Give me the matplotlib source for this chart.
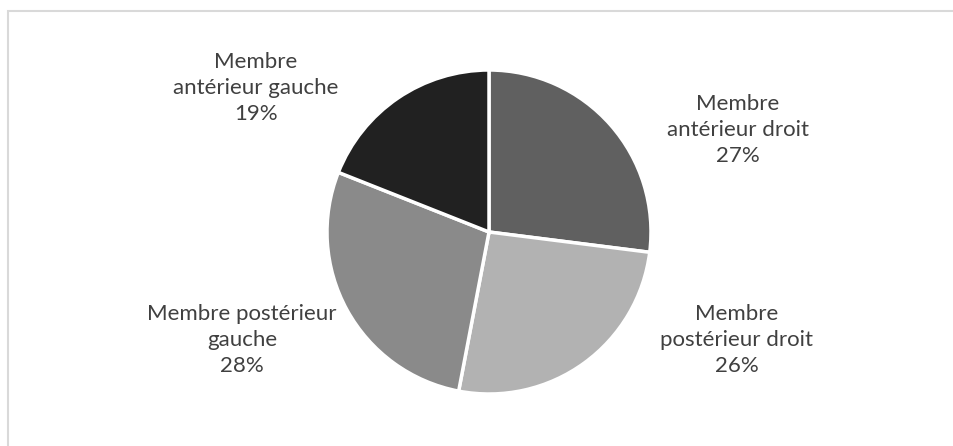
import matplotlib
matplotlib.use('Agg')
import matplotlib.pyplot as plt
from matplotlib.patches import Rectangle

# slice data, clockwise from 12 o'clock
parts = ['Membre\nantérieur droit', 'Membre\npostérieur droit',
         'Membre postérieur\ngauche', 'Membre\nantérieur gauche']
shares = [27, 26, 28, 19]
colors = ['#606060', '#b2b2b2', '#8a8a8a', '#212121']

W, H = 954, 446
fig = plt.figure(figsize=(W / 100, H / 100), dpi=100)
fig.patch.set_facecolor('white')

# light frame like the Excel chart area
fig.patches.append(Rectangle((8 / W, -0.1), 1.2, (H - 11) / H + 0.1,
                             transform=fig.transFigure, fill=False,
                             edgecolor='#d9d9d9', linewidth=1.5))

cx, cy, r = 489, H - 232, 162
ax = fig.add_axes([(cx - r) / W, (cy - r) / H, 2 * r / W, 2 * r / H])
ax.pie(shares, colors=colors, startangle=90, counterclock=False,
       wedgeprops=dict(edgecolor='white', linewidth=2.5))
ax.set_xlim(-1.0, 1.0)
ax.set_ylim(-1.0, 1.0)
ax.set_aspect('equal')
ax.axis('off')

# label centres in pixels (top-left origin)
label_pos = [(738, 130), (737, 340), (242, 340), (256, 88)]
for txt, v, (px, py) in zip(parts, shares, label_pos):
    fig.text(px / W, 1 - py / H, f"{txt}\n{v}%", ha='center', va='center',
             fontsize=16, family='Lato', color='#404040', linespacing=1.38)

plt.savefig('out.png', dpi=100)
